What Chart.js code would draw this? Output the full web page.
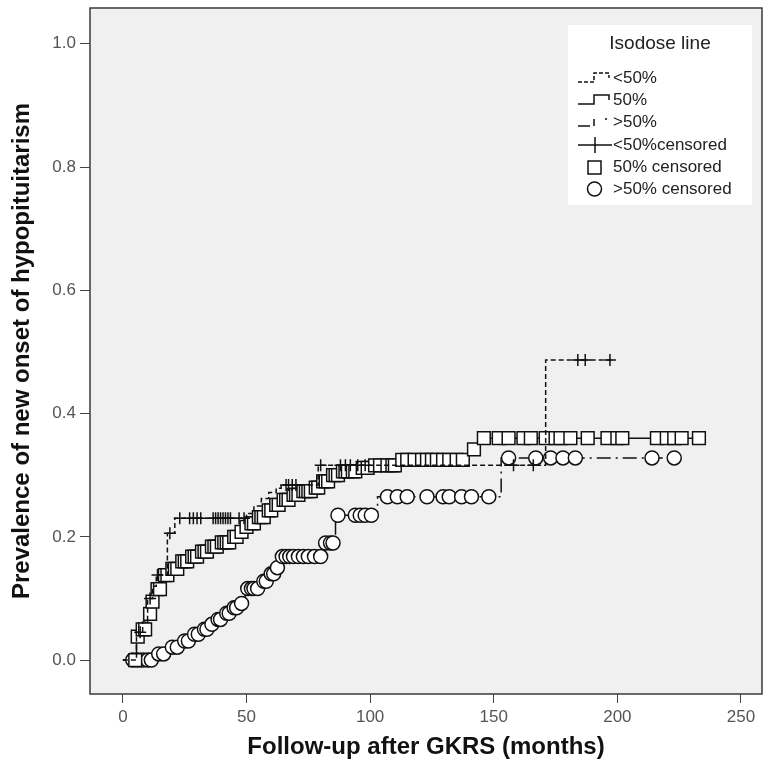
<!DOCTYPE html>
<html>
<head>
<meta charset="utf-8">
<script src="https://cdn.jsdelivr.net/npm/chart.js@4"></script>
<style>
  html, body { margin: 0; padding: 0; background: #fff; }
  canvas { display: block; }
</style>
</head>
<body>
<canvas id="kmChart" width="763" height="777"></canvas>
<script>
// axis ticks
const xTicks = [0, 50, 100, 150, 200, 250];
const yTicks = [0, 0.2, 0.4, 0.6, 0.8, 1.0];

// <50% isodose: event times (months) and cumulative prevalence
const lt50Times  = [0, 5.5, 8, 10, 12, 13.5, 18, 21, 50, 53, 56, 59, 62, 64, 79, 171, 198];
const lt50Values = [0, 0.045, 0.062, 0.1, 0.12, 0.138, 0.206, 0.23, 0.238, 0.25, 0.262, 0.272, 0.279, 0.284, 0.316, 0.487, 0.487];
const lt50Censored = [7, 11, 14, 19, 23, 27, 28.5, 30, 31.5, 36.5, 37.5, 38.5, 39.5, 40.5, 41.5, 42.5, 43.5, 47, 49,
  66, 67, 68.5, 70, 80, 88, 90, 92, 95, 98, 158, 166, 184, 187, 197];

// 50% isodose
const eq50Times  = [0, 5.5, 7, 10, 11.5, 13.5, 16, 19, 23, 27, 31, 35, 39, 44, 47, 49, 51, 54, 58, 61, 64, 68, 72, 77,
  80, 84, 88, 96, 101, 112, 140, 144, 235];
const eq50Values = [0, 0.038, 0.05, 0.075, 0.095, 0.115, 0.138, 0.148, 0.16, 0.168, 0.176, 0.184, 0.191, 0.2, 0.208,
  0.216, 0.222, 0.232, 0.243, 0.252, 0.26, 0.268, 0.274, 0.28, 0.29, 0.3, 0.306, 0.312, 0.316, 0.325, 0.342, 0.36, 0.36];
const eq50Censored = [5, 6, 8, 9, 11, 12, 14, 15, 17, 18, 20, 21, 22, 24, 25, 26, 28, 29, 30, 32, 33, 34, 36, 37, 38,
  40, 41, 42, 43, 45, 46, 48, 50, 52, 53, 55, 56, 57, 59, 60, 62, 63, 65, 66, 67, 69, 70, 71, 73, 74, 75, 76, 78, 79,
  81, 82, 83, 85, 86, 87, 89, 90, 91, 93, 94, 97, 99, 102, 104, 107, 109, 110, 113, 115, 118, 121, 123, 125, 127,
  129.5, 132, 135, 137.5, 142, 146, 152, 156, 162, 165, 171, 175, 177, 181, 188, 196, 200, 202, 216, 220, 223, 226, 233];

// >50% isodose
const gt50Times  = [0, 13, 19, 24, 28, 32, 35, 38, 41, 44, 47, 49.5, 56, 59, 62, 63.5, 81, 86, 103, 153, 224];
const gt50Values = [0, 0.01, 0.021, 0.031, 0.042, 0.05, 0.058, 0.066, 0.076, 0.085, 0.092, 0.116, 0.128, 0.14, 0.15,
  0.168, 0.19, 0.235, 0.265, 0.328, 0.328];
const gt50Censored = [4, 6, 8, 10, 11.5, 14.5, 16.5, 20, 22, 25, 26.5, 29, 30.5, 33, 34, 36, 38.5, 39.5, 42, 43, 45, 46,
  48, 50.5, 52, 53, 54.5, 57, 58, 60, 61, 62.5, 64.5, 66, 67.5, 69, 71, 73, 75, 77.5, 80, 82, 84, 85, 87, 94, 96, 98,
  100.5, 107, 111, 115, 123, 129.5, 132, 137, 141, 148, 156, 167, 173, 178, 183, 214, 223];

function toPoints(times, values) {
  return times.map((t, i) => ({ x: t, y: values[i] }));
}

// value of the step curve at time t
function stepValue(times, values, t) {
  let v = values[0];
  for (let i = 0; i < times.length; i++) {
    if (times[i] <= t) v = values[i];
  }
  return v;
}

function censoredPoints(censored, times, values) {
  return censored.map(t => ({ x: t, y: stepValue(times, values, t) }));
}

const plotBackground = {
  id: 'plotBackground',
  beforeDraw(chart) {
    const { ctx, chartArea: a } = chart;
    ctx.save();
    ctx.fillStyle = '#f0f0f0';
    ctx.fillRect(a.left, a.top, a.right - a.left, a.bottom - a.top);
    ctx.restore();
  },
  afterDraw(chart) {
    const { ctx, chartArea: a } = chart;
    ctx.save();
    ctx.strokeStyle = '#3a3a3a';
    ctx.lineWidth = 1.5;
    ctx.strokeRect(a.left, a.top, a.right - a.left, a.bottom - a.top);
    ctx.restore();
  },
};

const isodoseLegend = {
  id: 'isodoseLegend',
  afterDraw(chart) {
    const ctx = chart.ctx;
    ctx.save();
    ctx.fillStyle = '#ffffff';
    ctx.fillRect(568, 25, 184, 180);

    ctx.fillStyle = '#222';
    ctx.textBaseline = 'middle';
    ctx.textAlign = 'center';
    ctx.font = '19px "Liberation Sans", Arial, sans-serif';
    ctx.fillText('Isodose line', 660, 44);

    ctx.textAlign = 'left';
    ctx.font = '17px "Liberation Sans", Arial, sans-serif';
    const rows = ['<50%', '50%', '>50%', '<50%censored', '50% censored', '>50% censored'];
    const rowY = [78, 100, 122, 145, 167, 189];
    rows.forEach((txt, i) => ctx.fillText(txt, 613, rowY[i]));

    ctx.strokeStyle = '#111';
    ctx.lineWidth = 1.5;
    // <50% dashed step
    ctx.setLineDash([4, 2]);
    ctx.beginPath();
    ctx.moveTo(578, 82); ctx.lineTo(594, 82); ctx.lineTo(594, 73); ctx.lineTo(609, 73); ctx.lineTo(609, 78);
    ctx.stroke();
    // 50% solid step
    ctx.setLineDash([]);
    ctx.beginPath();
    ctx.moveTo(578, 104); ctx.lineTo(594, 104); ctx.lineTo(594, 95); ctx.lineTo(609, 95); ctx.lineTo(609, 100);
    ctx.stroke();
    // >50% dash-dot step
    ctx.beginPath();
    ctx.moveTo(578, 126); ctx.lineTo(590, 126);
    ctx.moveTo(594, 126); ctx.lineTo(594, 119);
    ctx.moveTo(605, 119); ctx.lineTo(607, 119);
    ctx.stroke();
    // censored symbols
    ctx.beginPath();
    ctx.moveTo(578, 145); ctx.lineTo(612, 145);
    ctx.moveTo(595, 137); ctx.lineTo(595, 153);
    ctx.stroke();
    ctx.strokeRect(588, 161, 13, 13);
    ctx.beginPath();
    ctx.arc(594.5, 189, 7, 0, Math.PI * 2);
    ctx.stroke();
    ctx.restore();
  },
};

Chart.defaults.font.family = '"Liberation Sans", Arial, sans-serif';

const ctx = document.getElementById('kmChart').getContext('2d');
new Chart(ctx, {
  type: 'scatter',
  data: {
    datasets: [
      {
        label: '<50%censored',
        data: censoredPoints(lt50Censored, lt50Times, lt50Values),
        pointStyle: 'cross',
        pointRadius: 6,
        borderColor: '#111',
        borderWidth: 1.5,
        order: 1,
      },
      {
        label: '50% censored',
        data: censoredPoints(eq50Censored, eq50Times, eq50Values),
        pointStyle: 'rect',
        pointRadius: 9,
        backgroundColor: '#ffffff',
        borderColor: '#111',
        borderWidth: 1.5,
        order: 2,
      },
      {
        label: '>50% censored',
        data: censoredPoints(gt50Censored, gt50Times, gt50Values),
        pointStyle: 'circle',
        pointRadius: 7,
        backgroundColor: '#ffffff',
        borderColor: '#111',
        borderWidth: 1.5,
        order: 3,
      },
      {
        label: '<50%',
        data: toPoints(lt50Times, lt50Values),
        showLine: true,
        stepped: true,
        borderColor: '#111',
        borderWidth: 1.5,
        borderDash: [5, 3],
        pointRadius: 0,
        order: 0,
      },
      {
        label: '50%',
        data: toPoints(eq50Times, eq50Values),
        showLine: true,
        stepped: true,
        borderColor: '#111',
        borderWidth: 1.5,
        pointRadius: 0,
        order: 4,
      },
      {
        label: '>50%',
        data: toPoints(gt50Times, gt50Values),
        showLine: true,
        stepped: true,
        borderColor: '#111',
        borderWidth: 1.5,
        borderDash: [14, 5, 2, 5],
        pointRadius: 0,
        order: 5,
      },
    ],
  },
  options: {
    responsive: false,
    animation: false,
    layout: { autoPadding: false, padding: { top: 8, right: 1, left: 0, bottom: 0 } },
    plugins: {
      legend: { display: false },
      tooltip: { enabled: false },
    },
    scales: {
      x: {
        type: 'linear',
        min: -13.3,
        max: 258.5,
        afterBuildTicks: scale => { scale.ticks = xTicks.map(v => ({ value: v })); },
        afterFit: scale => {
          scale.height = 83;
          scale.paddingLeft = 0;
          scale.paddingRight = 0;
        },
        grid: { drawOnChartArea: false, drawTicks: true, tickLength: 9, color: '#444' },
        border: { display: false },
        ticks: {
          color: '#555',
          font: { size: 17 },
          padding: 4,
          maxRotation: 0,
          callback: value => String(value),
        },
        title: {
          display: true,
          text: 'Follow-up after GKRS (months)',
          color: '#111',
          font: { size: 24, weight: 'bold' },
          padding: { top: 0, bottom: 15 },
        },
      },
      y: {
        type: 'linear',
        min: -0.055,
        max: 1.058,
        afterBuildTicks: scale => { scale.ticks = yTicks.map(v => ({ value: v })); },
        afterFit: scale => {
          scale.width = 90;
          scale.paddingTop = 0;
          scale.paddingBottom = 0;
        },
        grid: { drawOnChartArea: false, drawTicks: true, tickLength: 10, color: '#444' },
        border: { display: false },
        ticks: {
          color: '#555',
          font: { size: 17 },
          padding: 4,
          callback: value => value.toFixed(1),
        },
        title: {
          display: true,
          text: 'Prevalence of new onset of hypopituitarism',
          color: '#111',
          font: { size: 24, weight: 'bold' },
          padding: { top: 8, bottom: 0 },
        },
      },
    },
  },
  plugins: [plotBackground, isodoseLegend],
});
</script>
</body>
</html>
